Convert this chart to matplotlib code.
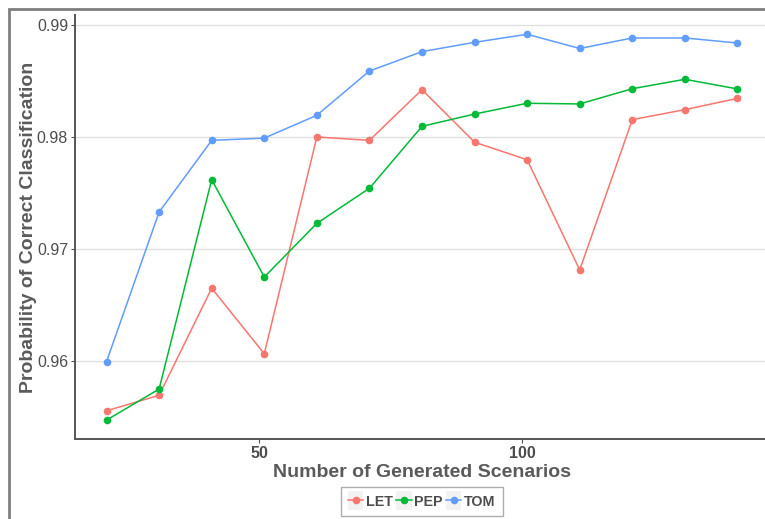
import matplotlib
matplotlib.use("Agg")
import matplotlib.pyplot as plt
from matplotlib.patches import Rectangle
from matplotlib.lines import Line2D
from matplotlib.legend_handler import HandlerLine2D

plt.rcParams['font.family'] = ['Liberation Sans', 'DejaVu Sans']

# Number of generated scenarios
scenarios = [21, 31, 41, 51, 61, 71, 81, 91, 101, 111, 121, 131, 141]

let_vals = [0.95556, 0.95694, 0.96650, 0.96065, 0.98000, 0.97970, 0.98422,
            0.97953, 0.97797, 0.96813, 0.98155, 0.98244, 0.98345]
pep_vals = [0.95473, 0.95750, 0.97619, 0.96750, 0.97229, 0.97542, 0.98095,
            0.98205, 0.98301, 0.98295, 0.98431, 0.98515, 0.98429]
tom_vals = [0.95995, 0.97330, 0.97970, 0.97990, 0.98194, 0.98589, 0.98762,
            0.98845, 0.98917, 0.98790, 0.98884, 0.98884, 0.98839]

series_names = ["LET", "PEP", "TOM"]
series_colors = ["#F8766D", "#00BA38", "#619CFF"]

x_ticks = [50, 100]
y_ticks = [0.96, 0.97, 0.98, 0.99]
y_tick_labels = ["0.96", "0.97", "0.98", "0.99"]

W, H = 765, 519
fig = plt.figure(figsize=(W / 100, H / 100), dpi=100)
fig.patch.set_facecolor("white")

# outer plot frame
fig.add_artist(Rectangle((9 / W, -0.1), 1.2, 1 - 9 / H + 0.1,
                         transform=fig.transFigure, fill=False,
                         edgecolor="#7f7f7f", linewidth=2.0, clip_on=False))

left, right, bottom, top = 75, 769, 439, 15
ax = fig.add_axes([left / W, 1 - bottom / H, (right - left) / W, (bottom - top) / H])
ax.set_facecolor("white")

for vals, name, col in zip([let_vals, pep_vals, tom_vals], series_names, series_colors):
    ax.plot(scenarios, vals, color=col, linewidth=1.1, marker="o",
            markersize=5.5, markeredgewidth=0, label=name, zorder=3)

ax.set_xlim(15, 147)
ax.set_ylim(0.95304, 0.99089)
ax.set_xticks(x_ticks)
ax.set_xticklabels([str(t) for t in x_ticks], fontweight="bold")
ax.set_yticks(y_ticks)
ax.set_yticklabels(y_tick_labels)
ax.tick_params(axis="x", colors="#4d4d4d", labelsize=11.5, length=3, width=0.8, pad=2)
ax.tick_params(axis="y", colors="#4d4d4d", labelsize=11.5, length=3, width=0.8, pad=2)
for lab in ax.get_xticklabels() + ax.get_yticklabels():
    lab.set_color("#4d4d4d")

ax.grid(axis="y", color="#dedede", linewidth=0.9)
ax.grid(axis="x", visible=False)
ax.set_axisbelow(True)

for s in ["top", "right"]:
    ax.spines[s].set_visible(False)
for s in ["left", "bottom"]:
    ax.spines[s].set_color("#555555")
    ax.spines[s].set_linewidth(1.4)

ax.set_xlabel("Number of Generated Scenarios", fontsize=14, fontweight="bold",
              color="#5a5a5a", labelpad=2)
ax.set_ylabel("Probability of Correct Classification", fontsize=14,
              fontweight="bold", color="#5a5a5a", labelpad=0)


class KeyHandler(HandlerLine2D):
    def create_artists(self, legend, orig_handle, xdescent, ydescent,
                       width, height, fontsize, trans):
        bg = Rectangle((-xdescent, -ydescent - 3), width, height + 6,
                       facecolor="#f2f2f2", edgecolor="none", transform=trans)
        arts = super().create_artists(legend, orig_handle, xdescent, ydescent,
                                      width, height, fontsize, trans)
        return [bg] + arts


handles = [Line2D([], [], color=c, linewidth=1.1, marker="o", markersize=5.5,
                  markeredgewidth=0) for c in series_colors]
leg = fig.legend(handles, series_names, loc="center",
                 bbox_to_anchor=((left + right) / 2 / W, 1 - 501.5 / H),
                 ncol=3, frameon=True, fontsize=10.3, handlelength=1.05,
                 handletextpad=0.2, columnspacing=0.25, borderpad=0.5,
                 handler_map={Line2D: KeyHandler(numpoints=1)})
leg.get_frame().set_edgecolor("#999999")
leg.get_frame().set_linewidth(1.0)
leg.get_frame().set_boxstyle("square", pad=0)
for t in leg.get_texts():
    t.set_fontweight("bold")
    t.set_color("#4d4d4d")

fig.savefig("out.png", dpi=100, facecolor="white")
